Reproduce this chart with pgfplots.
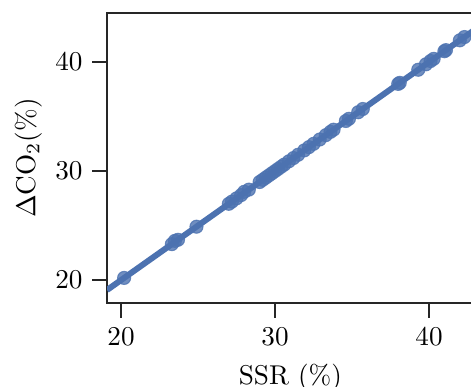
\documentclass[border=0pt]{standalone}
\usepackage{pgfplots}
\pgfplotsset{compat=1.18}
\definecolor{sbblue}{HTML}{4C72B0}
\definecolor{spine}{HTML}{262626}
\pgfplotstableread{
x y
20.2 20.2
23.3 23.3
23.5 23.6
23.7 23.7
24.9 24.9
27.0 27.0
27.2 27.2
27.5 27.5
27.8 27.8
28.0 28.1
28.3 28.3
29.0 29.0
29.2 29.2
29.4 29.4
29.6 29.6
29.8 29.8
30.0 30.0
30.2 30.2
30.4 30.4
30.6 30.6
30.9 30.9
31.2 31.2
31.5 31.5
31.9 31.9
32.2 32.2
32.5 32.5
32.9 32.9
33.3 33.3
33.6 33.6
33.8 33.8
34.6 34.6
34.8 34.8
35.4 35.4
35.7 35.7
38.0 38.0
38.1 38.1
39.3 39.3
39.8 39.8
40.1 40.1
40.3 40.3
41.0 41.0
41.1 41.1
42.0 42.0
42.3 42.3
}\pts
\begin{document}
\begin{tikzpicture}
\useasboundingbox (-39.38pt,-30.91pt) rectangle (133.95pt,111.5pt);
\clip (-39.38pt,-30.91pt) rectangle (133.95pt,111.5pt);
\begin{axis}[
  at={(0,0)}, anchor=south west,
  x=5.667pt, y=4.011pt,
  xmin=19.09, xmax=42.9, ymin=17.9, ymax=44.5,
  axis line style={line width=1.0pt, spine},
  xtick={20,30,40}, ytick={20,30,40},
  tick align=outside, major tick length=5.5pt,
  tick style={line width=1.0pt, spine},
  xtick pos=lower, ytick pos=left,
  xlabel={SSR (\%)},
  ylabel={$\Delta$CO$_2$(\%)},
  ylabel style={xshift=0pt, yshift=-2pt},
  clip=true,
]
\addplot[sbblue, line width=2.2pt] coordinates {(19.09,19.09) (42.9,42.9)};
\addplot[only marks, color=sbblue, mark=*, mark size=2.4pt, mark options={draw=sbblue, fill=sbblue, opacity=0.8}] table {\pts};
\end{axis}
\end{tikzpicture}
\end{document}
